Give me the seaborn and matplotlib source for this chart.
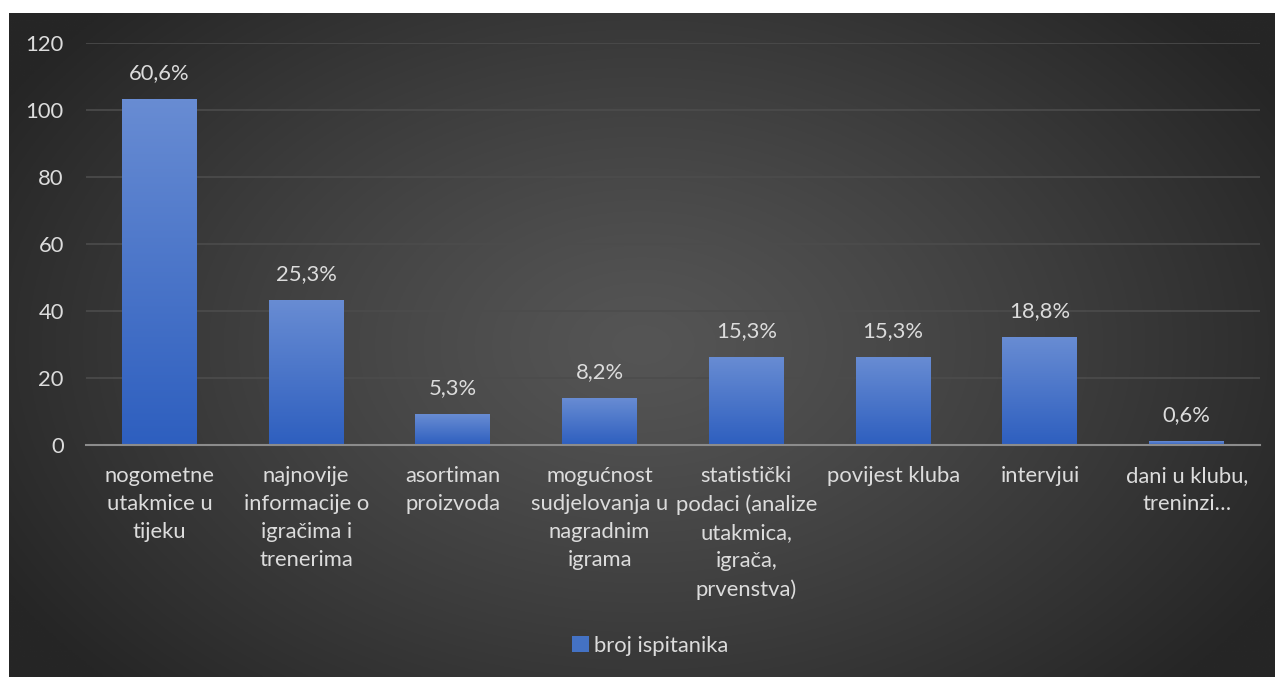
import numpy as np
import pandas as pd
import matplotlib
matplotlib.use("Agg")
import matplotlib.pyplot as plt
import seaborn as sns
from matplotlib.patches import Patch

categories = [
    "nogometne\nutakmice u\ntijeku",
    "najnovije\ninformacije o\nigračima i\ntrenerima",
    "asortiman\nproizvoda",
    "mogućnost\nsudjelovanja u\nnagradnim\nigrama",
    "statistički\npodaci (analize\nutakmica,\nigrača,\nprvenstva)",
    "povijest kluba",
    "intervjui",
    "dani u klubu,\ntreninzi…",
]
counts = [103, 43, 9, 14, 26, 26, 32, 1]
pct_labels = ["60,6%", "25,3%", "5,3%", "8,2%", "15,3%", "15,3%", "18,8%", "0,6%"]
series_name = "broj ispitanika"

sns.set_theme(style="white")
plt.rcParams["font.family"] = ["Lato", "DejaVu Sans"]
txt = "#dcdcdc"
fs = 15.8

df = pd.DataFrame({"kategorija": categories, "broj": counts})

fig = plt.figure(figsize=(12.75, 6.77), dpi=100, facecolor="white")

# radial dark background of the chart area
bg = fig.add_axes([9 / 1275, 0, 1 - 9 / 1275, 1 - 13 / 677], zorder=0)
yy, xx = np.mgrid[-1:1:400j, -1:1:800j]
r = np.sqrt((xx * 0.95) ** 2 + (yy * 0.75) ** 2)
r = np.clip(r / 1.1, 0, 1)
shade = 0x55 / 255 - (0x55 - 0x26) / 255 * r ** 1.2
bg.imshow(np.dstack([shade] * 3), aspect="auto", extent=[0, 1, 0, 1])
bg.set_axis_off()

ax = fig.add_axes([86 / 1275, 1 - 445 / 677, (1260 - 86) / 1275, (445 - 43) / 677], zorder=1)
ax.patch.set_alpha(0)

sns.barplot(data=df, x="kategorija", y="broj", color="#4472c4", width=0.51,
            saturation=1, edgecolor="none", linewidth=0, ax=ax, zorder=3)

# vertical gradient inside each bar
grad = np.linspace(0, 1, 100).reshape(-1, 1)
top = np.array([0x68, 0x8c, 0xd3]) / 255
bot = np.array([0x2e, 0x5f, 0xbf]) / 255
img = top[None, None, :] * (1 - grad[..., None]) + bot[None, None, :] * grad[..., None]
for p in ax.patches:
    x0, w, h = p.get_x(), p.get_width(), p.get_height()
    ax.imshow(img, extent=[x0, x0 + w, 0, h], aspect="auto", zorder=4,
              interpolation="bilinear")
ax.set_xlim(-0.5, len(categories) - 0.5)
ax.set_ylim(0, 120)

for i, (v, lab) in enumerate(zip(counts, pct_labels)):
    ax.annotate(lab, (i, v), xytext=(0, 19), textcoords="offset points",
                ha="center", va="center", color=txt, fontsize=fs, zorder=5)

ax.set_yticks([0, 20, 40, 60, 80, 100, 120])
ax.grid(axis="y", color="#4c4c4c", linewidth=1.2, zorder=0)
ax.set_axisbelow(True)
for s in ["left", "right", "top"]:
    ax.spines[s].set_visible(False)
ax.spines["bottom"].set_color("#8c8c8c")
ax.spines["bottom"].set_linewidth(1.5)
ax.spines["bottom"].set_zorder(6)
ax.tick_params(axis="y", length=0, pad=16, labelsize=fs, labelcolor=txt)
ax.tick_params(axis="x", length=0, pad=15, labelsize=fs, labelcolor=txt)
for t in ax.get_xticklabels():
    t.set_linespacing(1.5)
    t.set_verticalalignment("top")
ax.set_xlabel("")
ax.set_ylabel("")

fig.legend(handles=[Patch(facecolor="#4472c4", edgecolor="none", label=series_name)],
           loc="center", bbox_to_anchor=(0.51, 1 - 646 / 677), frameon=False,
           fontsize=fs, labelcolor=txt, handlelength=0.75, handleheight=0.75,
           handletextpad=0.25)

fig.savefig("out.png", dpi=100, facecolor="white")
